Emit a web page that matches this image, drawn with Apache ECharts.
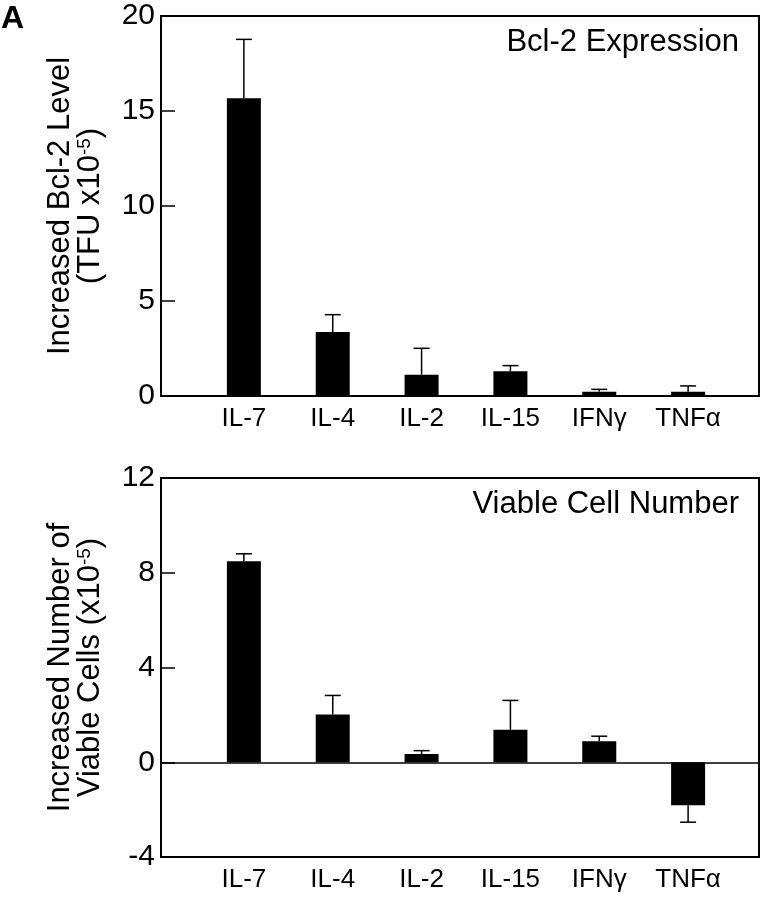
<!DOCTYPE html>
<html>
<head>
<meta charset="utf-8">
<script src="https://cdn.jsdelivr.net/npm/echarts@6/dist/echarts.min.js"></script>
<style>
html,body{margin:0;padding:0;background:#fff;}
#chart{width:761px;height:900px;}
</style>
</head>
<body>
<div id="chart"></div>
<script>
const categories = ['IL-7', 'IL-4', 'IL-2', 'IL-15', 'IFNγ', 'TNFα'];
const bcl2Values = [15.67, 3.37, 1.12, 1.30, 0.23, 0.23];
const bcl2ErrorTops = [18.77, 4.28, 2.51, 1.60, 0.35, 0.53];
const viableValues = [8.49, 2.02, 0.35, 1.37, 0.89, -1.82];
const viableErrorTops = [8.80, 2.82, 0.49, 2.61, 1.10, -2.53];
const bcl2Ticks = [0, 5, 10, 15, 20];
const viableTicks = [-4, 0, 4, 8, 12];

const FONT = 'Liberation Sans';
const idx = categories.map((c, i) => i);

function xAxisFor(gridIndex) {
  return {
    type: 'value', gridIndex: gridIndex, min: -0.933, max: 5.798,
    axisLine: {show: false}, axisTick: {show: false}, splitLine: {show: false},
    axisLabel: {
      customValues: idx, margin: 10,
      formatter: v => categories[Math.round(v)],
      color: '#000', fontSize: 26, fontFamily: FONT
    }
  };
}
function yAxisFor(gridIndex, ticks, line1, interval) {
  return {
    type: 'value', gridIndex: gridIndex,
    min: ticks[0], max: ticks[ticks.length - 1], interval: interval,
    axisLine: {show: true, onZero: false, lineStyle: {color: '#000', width: 2}},
    axisTick: {show: true, inside: true, length: 14, lineStyle: {color: '#000', width: 1.5}},
    splitLine: {show: false},
    axisLabel: {color: '#000', fontSize: 30, fontFamily: FONT, margin: 6},
    name: '{a|' + line1 + '}\n{a|' + (gridIndex === 0 ? '(TFU x10' : 'Viable Cells (x10') + '}{s|-5}{a|)}',
    nameLocation: 'middle', nameGap: 56, nameRotate: 90,
    nameTextStyle: {
      color: '#000', fontFamily: FONT, align: 'center',
      rich: {
        a: {fontSize: 31, fontFamily: FONT, color: '#000', lineHeight: 30},
        s: {fontSize: 19, fontFamily: FONT, color: '#000', verticalAlign: 'top', lineHeight: 30}
      }
    }
  };
}
function errorSeries(xi, yi, values, tops) {
  return {
    type: 'custom', xAxisIndex: xi, yAxisIndex: yi, silent: true, z: 1,
    data: values.map((v, i) => [i, v, tops[i]]),
    renderItem: function (params, api) {
      const x = api.value(0);
      const p0 = api.coord([x, api.value(1)]);
      const p1 = api.coord([x, api.value(2)]);
      const half = 8;
      const style = {stroke: '#000', lineWidth: 1.5};
      return {
        type: 'group',
        children: [
          {type: 'line', shape: {x1: p0[0], y1: p0[1], x2: p1[0], y2: p1[1]}, style: style},
          {type: 'line', shape: {x1: p1[0] - half, y1: p1[1], x2: p1[0] + half, y2: p1[1]}, style: style}
        ]
      };
    }
  };
}

const chart = echarts.init(document.getElementById('chart'), null, {renderer: 'canvas'});
chart.setOption({
  animation: false,
  backgroundColor: '#fff',
  textStyle: {fontFamily: FONT},
  title: [
    {text: 'A', left: 1, top: 3, padding: 0, textStyle: {fontSize: 32, fontWeight: 'bold', color: '#000', fontFamily: FONT}},
    {text: 'Bcl-2 Expression', right: 22, top: 27, padding: 0, textStyle: {fontSize: 31, fontWeight: 'normal', color: '#000', fontFamily: FONT}},
    {text: 'Viable Cell Number', right: 22, top: 489, padding: 0, textStyle: {fontSize: 31, fontWeight: 'normal', color: '#000', fontFamily: FONT}}
  ],
  grid: [
    {left: 161, top: 16, width: 598, height: 380, show: true, borderColor: '#000', borderWidth: 2, backgroundColor: 'transparent'},
    {left: 161, top: 478, width: 598, height: 379, show: true, borderColor: '#000', borderWidth: 2, backgroundColor: 'transparent'}
  ],
  xAxis: [xAxisFor(0), xAxisFor(1)],
  yAxis: [
    yAxisFor(0, bcl2Ticks, 'Increased Bcl-2 Level', 5),
    yAxisFor(1, viableTicks, 'Increased Number of', 4)
  ],
  series: [
    errorSeries(0, 0, bcl2Values, bcl2ErrorTops),
    {
      type: 'bar', xAxisIndex: 0, yAxisIndex: 0, barWidth: 34, z: 2,
      itemStyle: {color: '#000'},
      data: bcl2Values.map((v, i) => [i, v])
    },
    errorSeries(1, 1, viableValues, viableErrorTops),
    {
      type: 'bar', xAxisIndex: 1, yAxisIndex: 1, barWidth: 34, z: 2,
      itemStyle: {color: '#000'},
      data: viableValues.map((v, i) => [i, v]),
      markLine: {
        silent: true, symbol: 'none', label: {show: false},
        lineStyle: {color: '#000', width: 1.5, type: 'solid'},
        data: [{yAxis: 0}]
      }
    }
  ]
});
</script>
</body>
</html>
